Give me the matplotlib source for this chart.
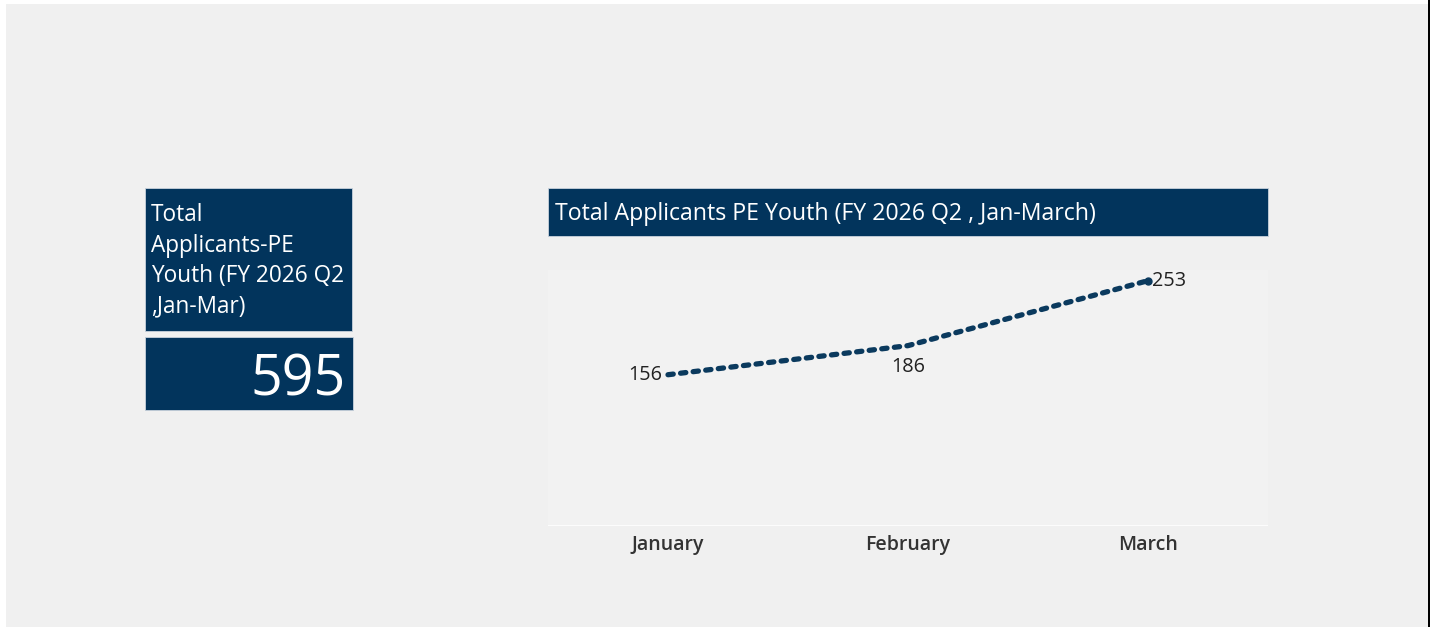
import matplotlib
matplotlib.use("Agg")
import matplotlib.pyplot as plt
from matplotlib.patches import Rectangle

months = ["January", "February", "March"]
applicants = [156, 186, 253]
kpi_title = "Total\nApplicants-PE\nYouth (FY 2026 Q2\n,Jan-Mar)"
kpi_value = "595"
chart_title = "Total Applicants PE Youth (FY 2026 Q2 , Jan-March)"

W, H = 1433, 627
NAVY = "#02345c"
BG = "#f0f0f0"
FONT = ["Open Sans", "DejaVu Sans"]

fig = plt.figure(figsize=(W / 100, H / 100), dpi=100)
fig.patch.set_facecolor("white")

def box(x0, y0, x1, y1):
    return [x0 / W, 1 - y1 / H, (x1 - x0) / W, (y1 - y0) / H]

# background panel
fig.patches.append(Rectangle((6 / W, 0), (1428 - 6) / W, 1 - 4 / H,
                             transform=fig.transFigure, facecolor=BG, edgecolor="none", zorder=0))
fig.patches.append(Rectangle((1428 / W, 0), 2 / W, 1,
                             transform=fig.transFigure, facecolor="black", edgecolor="none", zorder=0))

# KPI boxes
for (x0, y0, x1, y1) in [(145, 188, 352, 331), (145, 337, 353, 410), (548, 188, 1268, 236)]:
    fig.patches.append(Rectangle((x0 / W, 1 - y1 / H), (x1 - x0) / W, (y1 - y0) / H,
                                 transform=fig.transFigure, facecolor=NAVY, edgecolor="#c9d2dc",
                                 linewidth=0.6, zorder=1))

for i, line in enumerate(kpi_title.split("\n")):
    fig.text(151 / W, 1 - (221 + i * 30.6) / H, line, color="white", fontsize=16.3, family=FONT,
             ha="left", va="baseline", zorder=2)
fig.text(346 / W, 1 - 396 / H, kpi_value, color="white", fontsize=40, family=FONT,
         ha="right", va="baseline", zorder=2)
fig.text(555 / W, 1 - 220 / H, chart_title, color="white", fontsize=16.7, family=FONT,
         ha="left", va="baseline", zorder=2)

# line chart
ax = fig.add_axes(box(548, 270, 1268, 526), zorder=3)
ax.set_facecolor("#f2f2f2")
x = list(range(len(months)))
ax.plot(x, applicants, color="#0b3a5e", linewidth=3.8, linestyle=(0, (1.0, 1.4)),
        dash_capstyle="round", zorder=3)
ax.plot([x[-1]], [applicants[-1]], "o", color="#0b3a5e", markersize=5, zorder=4)
ax.set_xlim(-0.5, 2.5)
ax.set_ylim(0, 264)
for s in ax.spines.values():
    s.set_visible(False)
ax.set_yticks([])
ax.set_xticks(x)
ax.set_xticklabels(months, fontsize=14, family=FONT, color="#333333", fontweight="semibold")
ax.tick_params(axis="x", length=0, pad=6.5)
ax.axhline(0, color="white", linewidth=1.2)

lab = dict(fontsize=14.3, family=FONT, color="#222222")
ax.annotate(str(applicants[0]), (x[0], applicants[0]), xytext=(-4, 0), textcoords="offset points",
            ha="right", va="center", **lab)
ax.annotate(str(applicants[1]), (x[1], applicants[1]), xytext=(0, -8), textcoords="offset points",
            ha="center", va="top", **lab)
ax.annotate(str(applicants[2]), (x[2], applicants[2]), xytext=(3, 0), textcoords="offset points",
            ha="left", va="center", **lab)

fig.savefig("out.png", dpi=100, facecolor=fig.get_facecolor())
